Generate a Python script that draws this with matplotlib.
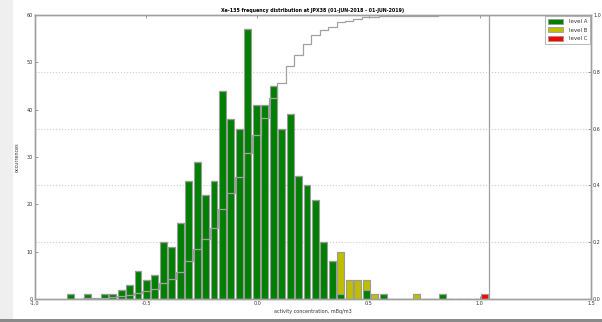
import numpy as np
import matplotlib
matplotlib.use("Agg")
import matplotlib.pyplot as plt
from matplotlib.patches import Rectangle, Patch

# ---- data ----
data_min = -0.86
data_max = 1.04
n_bins = 50
level_a = [1, 0, 1, 0, 1, 1, 2, 3, 6, 4, 5, 12, 11, 16, 25, 29, 22, 25,
           44, 38, 36, 57, 41, 41, 45, 36, 39, 26, 24, 21, 12, 8,
           1, 0, 0, 2, 0, 1, 0, 0, 0, 0, 0, 0, 1, 0, 0, 0, 0, 0]
level_b = [0] * 32 + [9, 4, 4, 2, 1, 0, 0, 0, 0, 1, 0, 0, 0, 0, 0, 0, 0, 0]
level_c = [0] * 49 + [1]
x_ticks = [-1.0, -0.5, 0.0, 0.5, 1.0, 1.5]
y_ticks = [0, 10, 20, 30, 40, 50, 60]
y2_ticks = [0.0, 0.2, 0.4, 0.6, 0.8, 1.0]
title = "Xe-135 frequency distribution at JPX38 (01-JUN-2018 - 01-JUN-2019)"
xlabel = "activity concentration, mBq/m3"
ylabel = "occurrences"
labels = ["level A", "level B", "level C"]
colors = ["#008000", "#bfbf00", "#ff0000"]

a = np.array(level_a, float)
b = np.array(level_b, float)
c = np.array(level_c, float)
edges = np.linspace(data_min, data_max, n_bins + 1)
width = edges[1] - edges[0]
total = a + b + c
cdf = np.cumsum(total) / total.sum()

fig = plt.figure(figsize=(6.02, 3.22), dpi=100)
fig.patch.set_facecolor("white")
# screenshot frame
fig.patches.append(Rectangle((0, 0), 13 / 602, 1, transform=fig.transFigure,
                             facecolor="#efefef", edgecolor="none", zorder=0))
fig.patches.append(Rectangle((0, 0), 1, 3 / 322, transform=fig.transFigure,
                             facecolor="#8a8a8a", edgecolor="none", zorder=0))

ax = fig.add_axes([35 / 602, 1 - 299 / 322, 556 / 602, 284 / 322])
ax2 = ax.twinx()

ax.set_xlim(-1.0, 1.5)
ax.set_ylim(0, 60)
ax2.set_ylim(0, 1.0)

# grid behind bars (at the right-axis tick levels)
for v in y2_ticks[1:-1]:
    ax.axhline(v * 60, color="#cccccc", linestyle=":", lw=0.8, zorder=0)

bw = width * 0.82
ec = "#9a9a9a"
ax.bar(edges[:-1] + width / 2, a, width=bw, color=colors[0], edgecolor=ec, lw=0.8, zorder=2)
ax.bar(edges[:-1] + width / 2, b, width=bw, bottom=a, color=colors[1], edgecolor=ec, lw=0.8, zorder=2)
ax.bar(edges[:-1] + width / 2, c, width=bw, bottom=a + b, color=colors[2], edgecolor=ec, lw=0.8, zorder=2)

ax2.stairs(cdf, edges, color="#a0a0a0", lw=0.9)

ax.set_xticks(x_ticks)
ax.set_xticklabels(["%.1f" % v for v in x_ticks])
ax.set_yticks(y_ticks)
ax2.set_yticks(y2_ticks)
ax2.set_yticklabels(["%.1f" % v for v in y2_ticks])

for axx in (ax, ax2):
    for s in axx.spines.values():
        s.set_color("#a0a0a0")
        s.set_linewidth(1.0)
ax.tick_params(direction="in", length=2, width=0.6, color="#888888",
               labelsize=3.5, pad=1.5, top=True, labelcolor="#333333")
ax2.tick_params(direction="in", length=2, width=0.6, color="#888888",
                labelsize=3.5, pad=1.5, labelcolor="#333333")

ax.set_title(title, fontsize=3.4, fontweight="bold", pad=2)
ax.set_xlabel(xlabel, fontsize=3.5, labelpad=2, color="#333333")
ax.set_ylabel(ylabel, fontsize=3.5, labelpad=5, color="#333333")

handles = [Patch(facecolor=col, edgecolor="#9a9a9a", lw=0.6) for col in colors]
leg = ax2.legend(handles, labels, loc="upper right", fontsize=4.0, frameon=True,
                 handlelength=2.8, handleheight=0.9, borderpad=0.5,
                 labelspacing=0.6, fancybox=False, borderaxespad=0.2,
                 handletextpad=1.0)
leg.get_frame().set_edgecolor("#999999")
leg.get_frame().set_linewidth(0.6)
for t in leg.get_texts():
    t.set_color("#333333")

fig.savefig("out.png", dpi=100)
